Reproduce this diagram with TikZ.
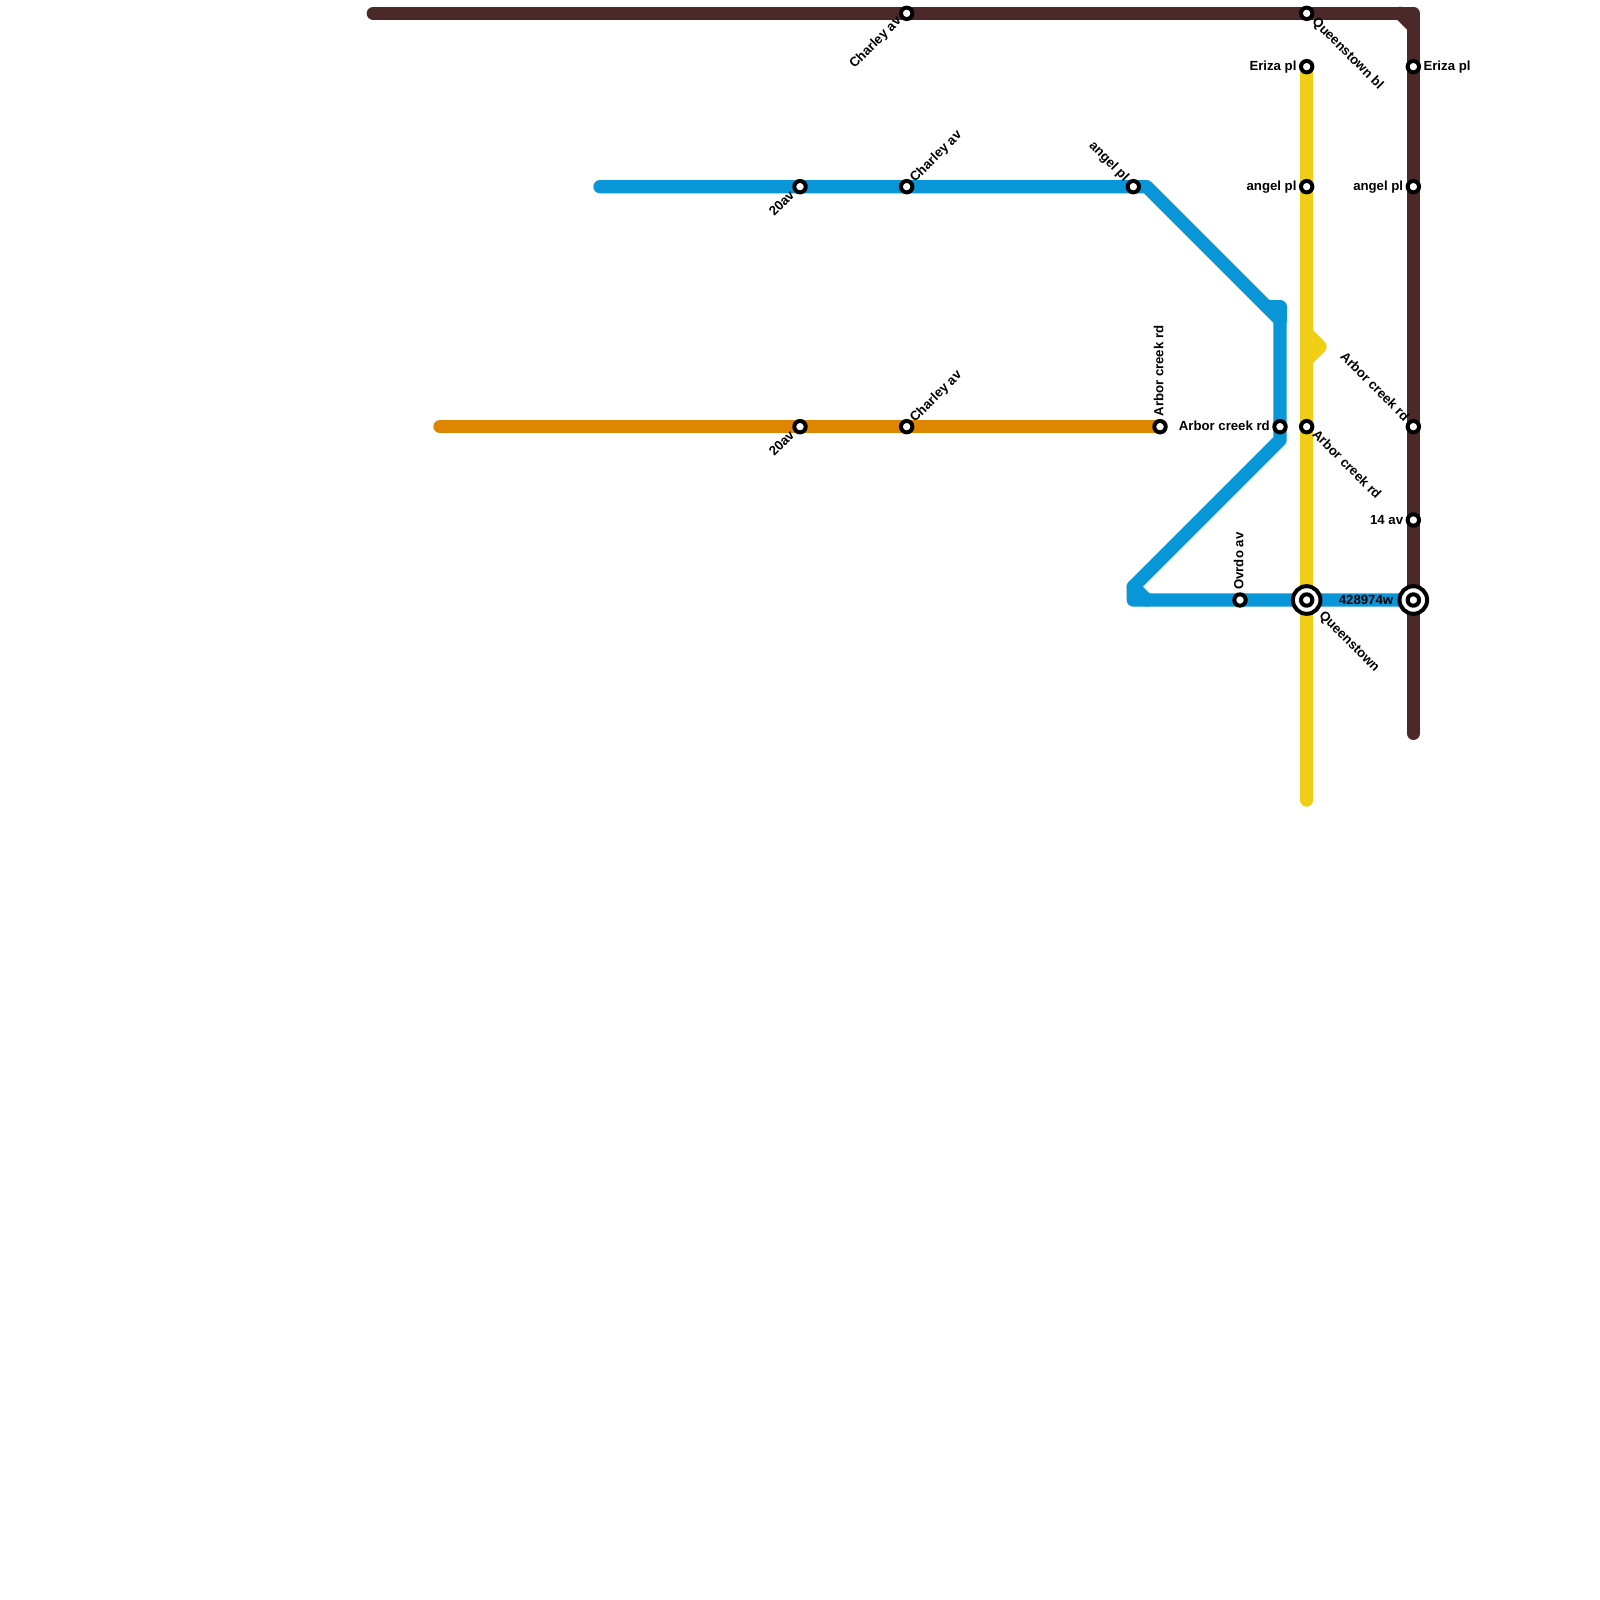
\documentclass[tikz,border=0pt]{standalone}
\usepackage{fontspec}
\setmainfont{Liberation Sans}
\definecolor{brownline}{HTML}{4B2929}
\definecolor{blueline}{HTML}{0996D8}
\definecolor{yellowline}{HTML}{F0CE15}
\definecolor{orangeline}{HTML}{DF8600}
\tikzset{
  metro/.style={line width=13.33pt,line cap=round,line join=round},
  stn/.style={circle,draw=black,fill=white,line width=4pt,minimum size=11.4pt,inner sep=0pt},
  hub/.style={circle,draw=black,fill=white,line width=4pt,minimum size=27.6pt,inner sep=0pt},
  lbl/.style={font=\bfseries\fontsize{13.2}{13.2}\selectfont,inner sep=0pt,text=black,text height=9pt,text depth=2.5pt}
}
\begin{document}
\begin{tikzpicture}[x=1pt,y=-1pt]
\useasboundingbox (0,0) rectangle (1600,1600);
\fill[white] (0,0) rectangle (1600,1600);
% bends and ends
\coordinate (bStart) at (373.33,13.33);
\coordinate (bN) at (1400,13.33);
\coordinate (bC) at (1413.33,13.33);
\coordinate (bD) at (1413.33,26.67);
\coordinate (bEnd) at (1413.33,733.33);
\coordinate (uStart) at (600,186.67);
\coordinate (uA) at (1146.67,186.67);
\coordinate (uB) at (1266.67,306.67);
\coordinate (uBc) at (1280,306.67);
\coordinate (uC) at (1280,320);
\coordinate (uD) at (1280,440);
\coordinate (uE) at (1133.33,586.67);
\coordinate (uF) at (1133.33,600);
\coordinate (uG) at (1146.67,600);
\coordinate (yStart) at (1306.67,66.67);
\coordinate (yA) at (1306.67,333.33);
\coordinate (yB) at (1320,346.67);
\coordinate (yC) at (1306.67,360);
\coordinate (yEnd) at (1306.67,800);
\coordinate (oStart) at (440,426.67);
\coordinate (oEnd) at (1160,426.67);
\coordinate (pHubY) at (1306.67,600);
\coordinate (pHubB) at (1413.33,600);
% lines
\draw[metro,brownline] (bStart) -- (bC) -- (bEnd);
\draw[metro,brownline] (bN) -- (bD);
\draw[metro,yellowline] (yStart) -- (yEnd);
\draw[metro,yellowline,fill=yellowline] (yA) -- (yB) -- (yC) -- cycle;
\draw[metro,blueline] (uStart) -- (uA) -- (uC) -- (uD) -- (uE) -- (uF) -- (pHubB);
\draw[metro,blueline] (uB) -- (uBc) -- (uC);
\draw[metro,blueline] (uE) -- (uG);
\draw[metro,orangeline] (oStart) -- (oEnd);
% stations
\node[stn] (s1) at (906.67,13.33) {};
\node[stn] (s2) at (1306.67,13.33) {};
\node[stn] (s3) at (1306.67,66.67) {};
\node[stn] (s4) at (1413.33,66.67) {};
\node[stn] (s5) at (800,186.67) {};
\node[stn] (s6) at (906.67,186.67) {};
\node[stn] (s7) at (1133.33,186.67) {};
\node[stn] (s8) at (1306.67,186.67) {};
\node[stn] (s9) at (1413.33,186.67) {};
\node[stn] (s10) at (800,426.67) {};
\node[stn] (s11) at (906.67,426.67) {};
\node[stn] (s12) at (1160,426.67) {};
\node[stn] (s13) at (1280,426.67) {};
\node[stn] (s14) at (1306.67,426.67) {};
\node[stn] (s15) at (1413.33,426.67) {};
\node[stn] (s16) at (1413.33,520) {};
\node[stn] (s17) at (1240,600) {};
\node[hub] (h1) at (pHubY) {};
\node[stn] (s18) at (pHubY) {};
\node[hub] (h2) at (pHubB) {};
\node[stn] (s19) at (pHubB) {};
% labels
\node[lbl,anchor=east,rotate=45] (l1) at ([shift={(-7,6)}]s1.center) {Charley av};
\node[lbl,anchor=west,rotate=-45] (l2) at ([shift={(7,7)}]s2.center) {Queenstown bl};
\node[lbl,anchor=east] (l3) at ([shift={(-10,1)}]s3.center) {Eriza pl};
\node[lbl,anchor=west] (l4) at ([shift={(10,1)}]s4.center) {Eriza pl};
\node[lbl,anchor=east,rotate=45] (l5) at ([shift={(-7,7)}]s5.center) {20av};
\node[lbl,anchor=west,rotate=45] (l6) at ([shift={(6,-6)}]s6.center) {Charley av};
\node[lbl,anchor=east,rotate=-45] (l7) at ([shift={(-7,-7)}]s7.center) {angel pl};
\node[lbl,anchor=east] (l8) at ([shift={(-10,1)}]s8.center) {angel pl};
\node[lbl,anchor=east] (l9) at ([shift={(-10,1)}]s9.center) {angel pl};
\node[lbl,anchor=east,rotate=45] (l10) at ([shift={(-7,7)}]s10.center) {20av};
\node[lbl,anchor=west,rotate=45] (l11) at ([shift={(6,-6)}]s11.center) {Charley av};
\node[lbl,anchor=west,rotate=90] (l12) at ([shift={(0,-10)}]s12.center) {Arbor creek rd};
\node[lbl,anchor=east] (l13) at ([shift={(-10,1)}]s13.center) {Arbor creek rd};
\node[lbl,anchor=west,rotate=-45] (l14) at ([shift={(7,6)}]s14.center) {Arbor creek rd};
\node[lbl,anchor=east,rotate=-45] (l15) at ([shift={(-7,-7)}]s15.center) {Arbor creek rd};
\node[lbl,anchor=east] (l16) at ([shift={(-10,1)}]s16.center) {14 av};
\node[lbl,anchor=west,rotate=90] (l17) at ([shift={(0,-10)}]s17.center) {Ovrdo av};
\node[lbl,anchor=west,rotate=-45] (l18) at ([shift={(14,14)}]h1.center) {Queenstown};
\node[lbl,anchor=east] (l19) at ([shift={(-20,1)}]h2.center) {428974w};
\end{tikzpicture}
\end{document}
